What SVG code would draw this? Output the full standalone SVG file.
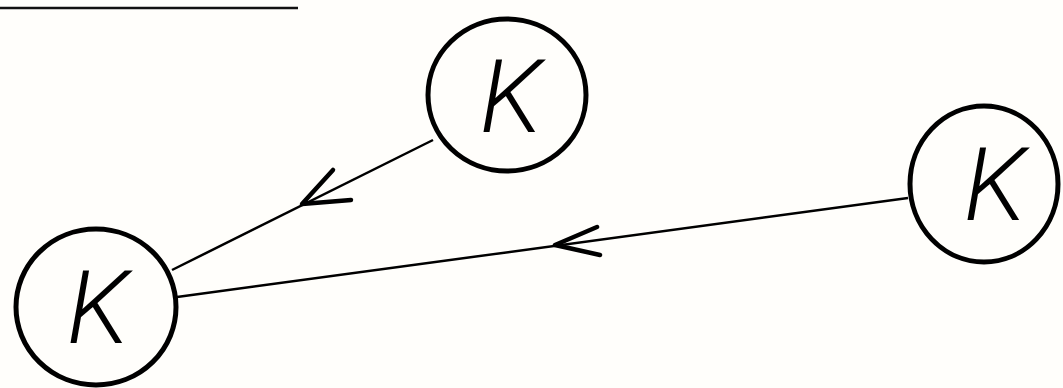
<svg xmlns="http://www.w3.org/2000/svg" width="1063" height="388" viewBox="0 0 1063 388">
<style>
.node{fill:none;stroke:#000;stroke-width:5}
.lbl{font-family:Roboto,"Liberation Sans",sans-serif;font-weight:300;font-style:italic;font-size:102px;fill:#000;text-anchor:middle}
.edge{stroke:#000;stroke-width:2.5;fill:none}
.head{stroke:#000;stroke-width:4.5;fill:none;stroke-linecap:round;stroke-linejoin:round}
</style>
<rect width="1063" height="388" fill="#fffefb"/>
<line x1="0" y1="8" x2="298" y2="8" stroke="#111" stroke-width="2.5"/>
<g id="connectors">
<line class="edge" x1="433" y1="140" x2="172" y2="270"/>
<polyline class="head" points="333,170 302,204 351,200"/>
<line class="edge" x1="908" y1="198" x2="177" y2="297"/>
<polyline class="head" points="597,227 555,245 600,255"/>
</g>
<g id="nodeA">
<ellipse class="node" cx="96" cy="307" rx="80" ry="78"/>
<text class="lbl" x="98" y="343">K</text>
</g>
<g id="nodeB">
<ellipse class="node" cx="507" cy="95" rx="79" ry="76"/>
<text class="lbl" x="511" y="132">K</text>
</g>
<g id="nodeC">
<ellipse class="node" cx="984" cy="184" rx="74" ry="78"/>
<text class="lbl" x="995" y="220">K</text>
</g>
</svg>
